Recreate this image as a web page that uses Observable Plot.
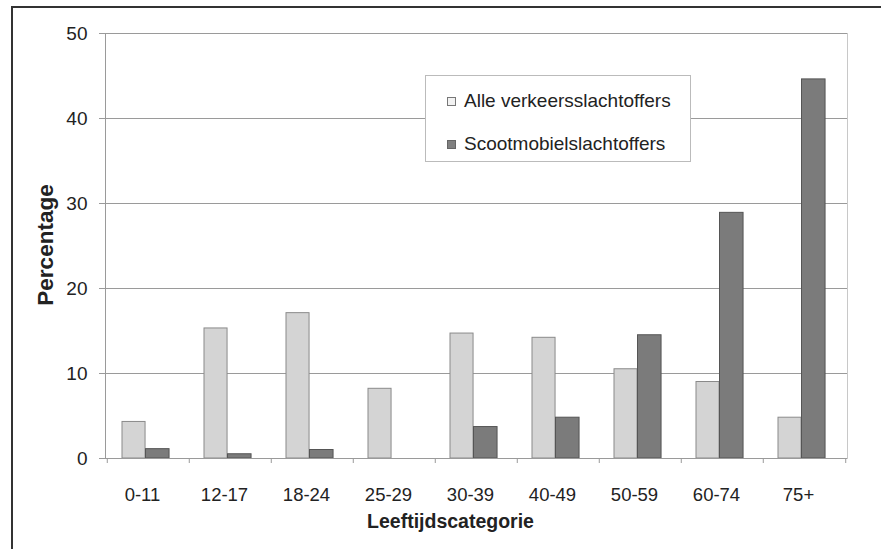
<!DOCTYPE html>
<html>
<head>
<meta charset="utf-8">
<script src="https://cdn.jsdelivr.net/npm/d3@7"></script>
<script src="https://cdn.jsdelivr.net/npm/@observablehq/plot@0.6"></script>
<style>
  html, body { margin: 0; padding: 0; background: #fff; }
  #wrap { position: relative; width: 881px; height: 549px; overflow: hidden; font-family: "Liberation Sans", Arial, sans-serif; }
  #outer { position: absolute; left: 11px; top: 6px; width: 900px; height: 600px; border-left: 2px solid #333; border-top: 2px solid #333; box-sizing: border-box; pointer-events: none; }
  #legend { position: absolute; left: 425px; top: 75px; width: 266px; height: 87px; border: 1px solid #bbb; background: #fff; box-sizing: border-box; }
  .li { position: absolute; left: 21px; font-size: 19px; color: #222; white-space: nowrap; line-height: 1; }
  .sw { display: inline-block; width: 9px; height: 9px; box-sizing: border-box; margin-right: 8px; vertical-align: 1px; }
  #ylab { position: absolute; left: 46px; top: 245px; transform: translate(-50%, -50%) rotate(-90deg); font-size: 22.5px; font-weight: bold; color: #222; white-space: nowrap; line-height: 1; }
</style>
</head>
<body>
<div id="wrap">
  <div id="chart"></div>
  <div id="legend">
    <div class="li" style="top:15px"><span class="sw" style="background:#f2f2f2;border:1px solid #777"></span><span id="l1"></span></div>
    <div class="li" style="top:58px"><span class="sw" style="background:#808080;border:1px solid #666"></span><span id="l2"></span></div>
  </div>
  <div id="ylab"></div>
  <div id="outer"></div>
</div>
<script>
const categories = ["0-11", "12-17", "18-24", "25-29", "30-39", "40-49", "50-59", "60-74", "75+"];
const seriesNames = ["Alle verkeersslachtoffers", "Scootmobielslachtoffers"];
const alleVerkeersslachtoffers = [4.3, 15.3, 17.1, 8.2, 14.7, 14.2, 10.5, 9.0, 4.8];
const scootmobielslachtoffers = [1.1, 0.5, 1.0, 0, 3.7, 4.8, 14.5, 28.9, 44.6];
const yTicks = [0, 10, 20, 30, 40, 50];
const xLabel = "Leeftijdscategorie";
const yLabel = "Percentage";

document.getElementById("l1").textContent = seriesNames[0];
document.getElementById("l2").textContent = seriesNames[1];
document.getElementById("ylab").textContent = yLabel;

const rows = categories.map((c, i) => ({cat: c, alle: alleVerkeersslachtoffers[i], scoot: scootmobielslachtoffers[i]}));

const W = 881, H = 549, mL = 105, mR = 34, mT = 33, mB = 91;
const step = (W - mL - mR) / categories.length;

const plot = Plot.plot({
  width: W,
  height: H,
  marginLeft: mL,
  marginRight: mR,
  marginTop: mT,
  marginBottom: mB,
  style: {fontFamily: "Liberation Sans, Arial, sans-serif", background: "transparent", color: "#222"},
  x: {domain: categories, padding: 0},
  y: {domain: [0, 50]},
  marks: [
    Plot.gridY(yTicks, {stroke: "#9a9a9a", strokeOpacity: 1, strokeWidth: 1}),
    Plot.frame({anchor: "right", stroke: "#c8c8c8"}),
    Plot.frame({anchor: "left", stroke: "#9a9a9a"}),
    Plot.barY(rows, {x: "cat", y: "alle", fill: "#d4d4d4", stroke: "#8a8a8a", strokeWidth: 1, insetLeft: 15, insetRight: step - 38.5}),
    Plot.barY(rows, {x: "cat", y: "scoot", fill: "#7b7b7b", stroke: "#555", strokeWidth: 1, insetLeft: 38.5, insetRight: step - 62.5}),
    Plot.ruleY([0], {stroke: "#9a9a9a"}),
    Plot.ruleX(categories, {x: d => d, dx: -step / 2, y1: 0, y2: 0, insetBottom: -5, stroke: "#9a9a9a"}),
    Plot.ruleX(categories.slice(-1), {x: d => d, dx: step / 2, y1: 0, y2: 0, insetBottom: -5, stroke: "#9a9a9a"}),
    Plot.axisY(yTicks, {tickSize: 6, tickPadding: 12, fontSize: 19, stroke: "#9a9a9a", label: null, fill: "#222"}),
    Plot.axisX({tickSize: 0, tickPadding: 29, dx: -6, fontSize: 18.5, label: null, fill: "#222"}),
    Plot.text([xLabel], {frameAnchor: "bottom", dx: -26, dy: 69, fontWeight: "bold", fontSize: 19.5, fill: "#222"})
  ]
});
document.getElementById("chart").appendChild(plot);
</script>
</body>
</html>
